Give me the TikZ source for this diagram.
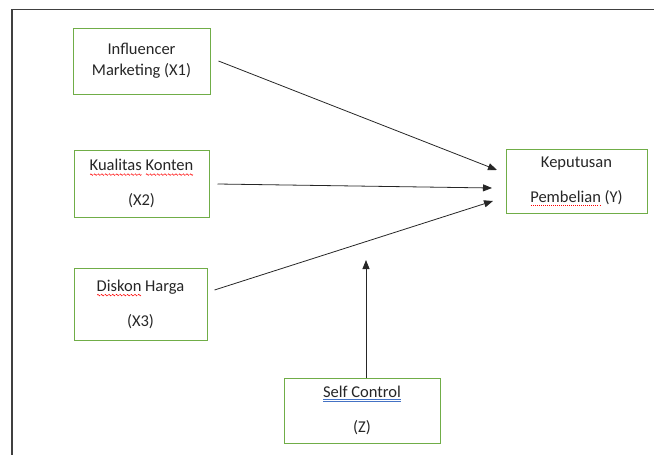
\documentclass[tikz,border=0pt]{standalone}
\usepackage{fontspec}
\setmainfont{Carlito}
\usetikzlibrary{arrows.meta}
\definecolor{boxgreen}{RGB}{112,173,71}
\definecolor{spellblue}{RGB}{68,114,196}

\tikzset{
 varbox/.style={draw=boxgreen,line width=1pt,minimum width=137pt,align=center,inner sep=0pt,text=black!85,font=\fontsize{16.5}{21}\selectfont},
 link/.style={-{Triangle[length=9pt,width=7pt]},line width=0.8pt,black!85}
}
\newcommand\redwave[1]{\setbox0\hbox{#1}\leavevmode\rlap{\raisebox{-4pt}{\hbox to\wd0{\xleaders\hbox{\tikz[x=1pt,y=1pt,baseline=0pt]\draw[red,line width=0.5pt](0,0) sin (0.75,0.8) cos (1.5,0) sin (2.25,-0.8) cos (3,0);}\hfil}}}\box0\relax}
\newcommand\reddots[1]{\setbox0\hbox{#1}\leavevmode\rlap{\raisebox{-3.5pt}{\hbox to\wd0{\xleaders\hbox to 2pt{\hss\textcolor{red}{\rule{0.8pt}{0.7pt}}\hss}\hfil}}}\box0\relax}
\newcommand\bluedouble[1]{\setbox0\hbox{#1}\leavevmode\rlap{\textcolor{spellblue}{\rule[-2.4pt]{\wd0}{0.6pt}}}\rlap{\textcolor{spellblue}{\rule[-4pt]{\wd0}{0.6pt}}}\box0\relax}

\begin{document}
\begin{tikzpicture}[x=1pt,y=-1pt]
 \useasboundingbox (0,0) rectangle (654,455);
 \draw[line width=1.5pt,black!75](12,455)--(12,9.5)--(654,9.5);

 \node[varbox,minimum height=66pt] (x1) at (141.5,61) {Influencer\\Marketing (X1)};
 \node[varbox,minimum height=67pt,minimum width=135pt] (x2) at (141.5,183.5) {\redwave{Kualitas} \redwave{Konten}\\[14pt](X2)};
 \node[varbox,minimum height=72pt,minimum width=133pt] (x3) at (140.5,304) {\redwave{Diskon} Harga\\[14pt](X3)};
 \node[varbox,minimum height=64pt,minimum width=141pt] (y) at (576.5,181) {Keputusan\\[14pt]\reddots{Pembelian} (Y)};
 \node[varbox,minimum height=65pt,minimum width=156pt] (z) at (362,410.5) {\bluedouble{Self Control}\\[14pt](Z)};

 \coordinate (t1) at (497,170);
 \coordinate (t2) at (492,188);
 \coordinate (t3) at (493,201);
 \coordinate (tz) at (366,260);

 \draw[link] ([xshift=8pt]x1.east) -- (t1);
 \draw[link] ([xshift=8pt,yshift=-0.5pt]x2.east) -- (t2);
 \draw[link] ([xshift=7pt,yshift=14pt]x3.east) -- (t3);
 \draw[link] ([xshift=4pt]z.north) -- (tz);
\end{tikzpicture}
\end{document}
